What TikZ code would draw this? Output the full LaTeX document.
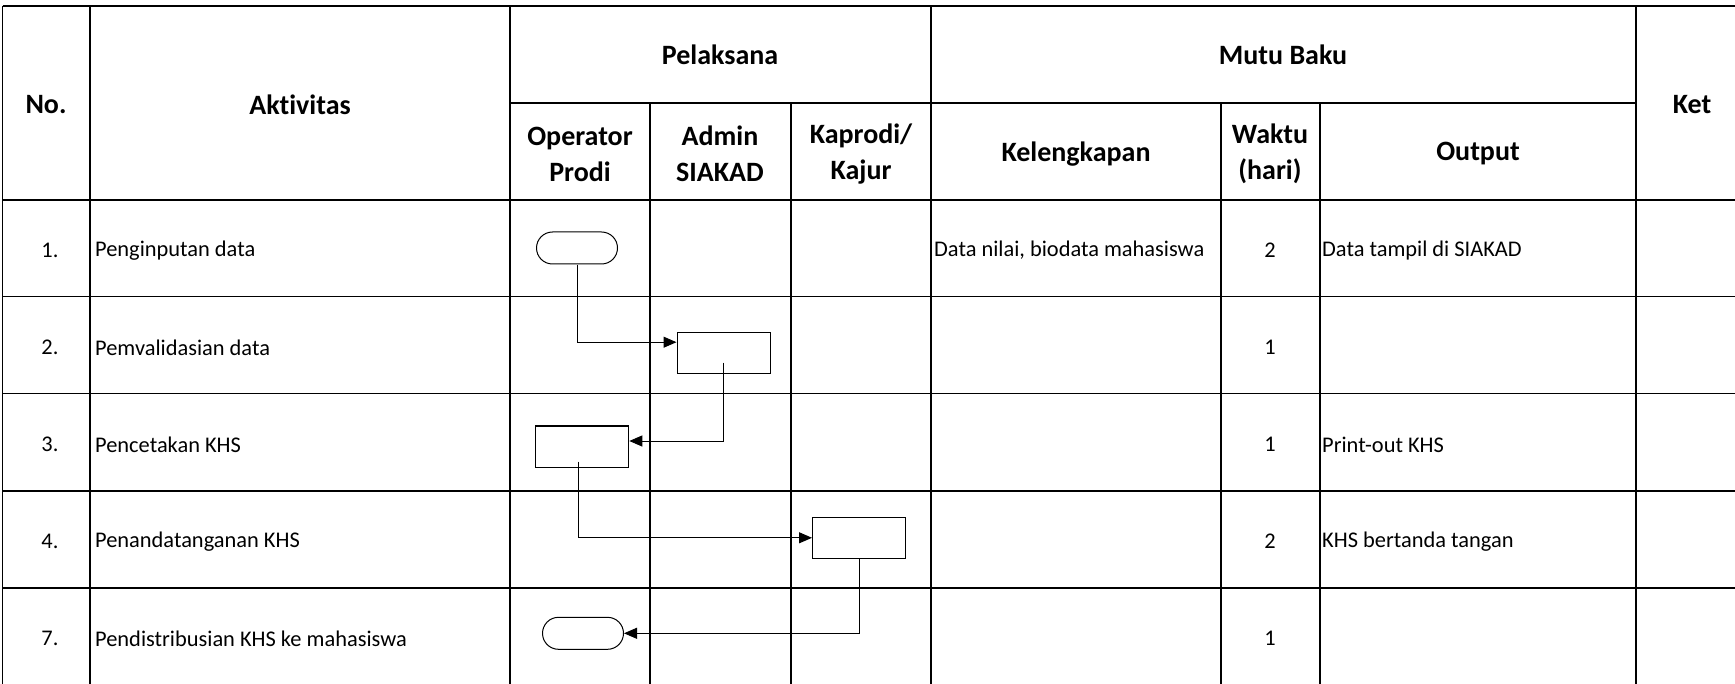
\documentclass[tikz,border=0pt]{standalone}
\usepackage{fontspec}
\setmainfont{Carlito}[Ligatures=NoCommon]
\usetikzlibrary{arrows.meta,shapes.misc,positioning}

\begin{document}
\begin{tikzpicture}[x=1pt,y=-1pt,
    >={Triangle[length=13pt,width=11pt]},
    grid/.style={line width=1.6pt},
    head/.style={font=\fontsize{28}{36}\selectfont\bfseries,align=center,inner sep=0pt},
    cell/.style={font=\fontsize{22.4}{27}\selectfont,inner sep=0pt},
    terminal/.style={draw,rounded rectangle,minimum width=81pt,minimum height=32pt,inner sep=0pt,line width=1pt},
    process/.style={draw,rectangle,minimum width=93pt,minimum height=41pt,inner sep=0pt,line width=1pt},
    flow/.style={->,line width=1pt}]
    \useasboundingbox (0,0) rectangle (1735,684);
    \fill[white] (0,0) rectangle (1735,684);

    % table frame
    \draw[grid] (2.5,6) -- (1735,6);
    \draw[grid] (510,103) -- (1636,103);
    \draw[grid] (2.5,200) -- (1735,200);
    \draw[grid] (2.5,296.7) -- (1735,296.7);
    \draw[grid] (2.5,393.7) -- (1735,393.7);
    \draw[grid] (2.5,490.7) -- (1735,490.7);
    \draw[grid] (2.5,587.7) -- (1735,587.7);
    \draw[grid] (2.5,6) -- (2.5,684);
    \draw[grid] (90,6) -- (90,684);
    \draw[grid] (510,6) -- (510,684);
    \draw[grid] (931,6) -- (931,684);
    \draw[grid] (1636,6) -- (1636,684);
    \draw[grid] (650,103) -- (650,684);
    \draw[grid] (791,103) -- (791,684);
    \draw[grid] (1221,103) -- (1221,684);
    \draw[grid] (1320,103) -- (1320,684);

    % header
    \node[head] (h_no)   at (46,105)    {No.};
    \node[head] (h_akt)  at (300,105)   {Aktivitas};
    \node[head] (h_pel)  at (720,55)    {Pelaksana};
    \node[head] (h_mutu) at (1283,55)   {Mutu Baku};
    \node[head] (h_ket)  at (1692,105)  {Ket};
    \node[head] (h_op)   at (580,154)   {Operator\\Prodi};
    \node[head] (h_adm)  at (720,154)   {Admin\\SIAKAD};
    \node[head] (h_kap)  at (861,154)   {Kaprodi/\\Kajur};
    \node[head] (h_kel)  at (1076,154)  {Kelengkapan};
    \node[head] (h_wkt)  at (1270,154)  {Waktu\\(hari)};
    \node[head] (h_out)  at (1478,154)  {Output};

    % rows
    \node[cell] (n_1) at (50,250.5) {1.};
    \node[cell] (n_2) at (50,347.5) {2.};
    \node[cell] (n_3) at (50,444.5) {3.};
    \node[cell] (n_4) at (50,541.5) {4.};
    \node[cell] (n_5) at (50,638.5) {7.};
    \node[cell,anchor=west] (a_1) at (95,250.5) {Penginputan data};
    \node[cell,anchor=west] (a_2) at (95,347.5) {Pemvalidasian data};
    \node[cell,anchor=west] (a_3) at (95,444.5) {Pencetakan KHS};
    \node[cell,anchor=west] (a_4) at (95,541.5) {Penandatanganan KHS};
    \node[cell,anchor=west] (a_5) at (95,638.5) {Pendistribusian KHS ke mahasiswa};
    \node[cell,anchor=west] (k_1) at (934,250.5) {Data nilai, biodata mahasiswa};
    \node[cell] (w_1) at (1270,250.5) {2};
    \node[cell] (w_2) at (1270,347.5) {1};
    \node[cell] (w_3) at (1270,444.5) {1};
    \node[cell] (w_4) at (1270,541.5) {2};
    \node[cell] (w_5) at (1270,638.5) {1};
    \node[cell,anchor=west] (o_1) at (1322,250.5) {Data tampil di SIAKAD};
    \node[cell,anchor=west] (o_3) at (1322,444.5) {Print-out KHS};
    \node[cell,anchor=west] (o_4) at (1322,541.5) {KHS bertanda tangan};

    % flow
    \node[terminal] (t_1) at (577,248) {};
    \node[process]  (b_2) at (723.5,352.7) {};
    \node[process]  (b_3) at (582.3,446.5) {};
    \node[process]  (b_4) at (859,537.8) {};
    \node[terminal] (t_5) at (583,633.3) {};
    \draw[flow] (t_1) |- ([yshift=10.5pt]b_2.west);
    \draw[flow] ([yshift=-10pt]b_2.center) |- ([yshift=5.5pt]b_3.east);
    \draw[flow] ([xshift=-4pt,yshift=-15pt]b_3.center) |- (b_4);
    \draw[flow] (b_4) |- (t_5);
\end{tikzpicture}
\end{document}
